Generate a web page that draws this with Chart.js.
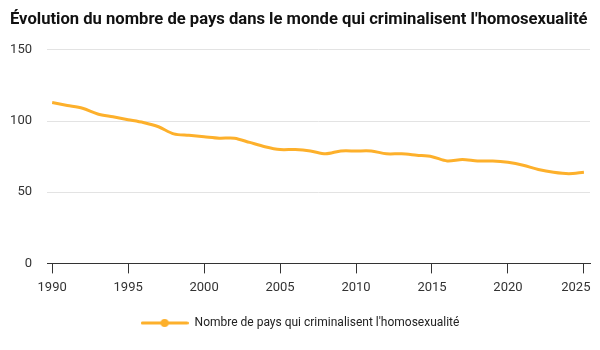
<!DOCTYPE html>
<html>
<head>
<meta charset="utf-8">
<script src="https://cdn.jsdelivr.net/npm/chart.js@4/dist/chart.umd.min.js"></script>
<style>
  html, body { margin: 0; padding: 0; background: #ffffff; }
  #wrap { width: 600px; height: 350px; }
</style>
</head>
<body>
<div id="wrap"><canvas id="c" width="600" height="350"></canvas></div>
<script>
const chartTitle = "Évolution du nombre de pays dans le monde qui criminalisent l'homosexualité";
const seriesName = "Nombre de pays qui criminalisent l'homosexualité";
const years = [1990, 1991, 1992, 1993, 1994, 1995, 1996, 1997, 1998, 1999,
               2000, 2001, 2002, 2003, 2004, 2005, 2006, 2007, 2008, 2009,
               2010, 2011, 2012, 2013, 2014, 2015, 2016, 2017, 2018, 2019,
               2020, 2021, 2022, 2023, 2024, 2025];
const countries = [113, 111, 109, 105, 103, 101, 99, 96, 91, 90,
                   89, 88, 88, 85, 82, 80, 80, 79, 77, 79,
                   79, 79, 77, 77, 76, 75, 72, 73, 72, 72,
                   71, 69, 66, 64, 63, 64];
const xTicks = [1990, 1995, 2000, 2005, 2010, 2015, 2020, 2025];
const yTicks = [0, 50, 100, 150];

const lineColor = '#FDB02B';

// legend icon: line with a dot in the middle
const icon = document.createElement('canvas');
icon.width = 48; icon.height = 10;
(function () {
  const g = icon.getContext('2d');
  g.strokeStyle = lineColor;
  g.lineWidth = 3;
  g.lineCap = 'round';
  g.beginPath(); g.moveTo(1.5, 5); g.lineTo(46.5, 5); g.stroke();
  g.fillStyle = lineColor;
  g.beginPath(); g.arc(24, 5, 4, 0, Math.PI * 2); g.fill();
})();

const points = years.map((y, i) => ({ x: y, y: countries[i] }));

new Chart(document.getElementById('c'), {
  type: 'line',
  data: {
    datasets: [{
      label: seriesName,
      data: points,
      borderColor: lineColor,
      backgroundColor: lineColor,
      borderWidth: 3,
      pointRadius: 0,
      pointHoverRadius: 0,
      tension: 0.3,
      fill: false
    }]
  },
  options: {
    responsive: false,
    animation: false,
    events: [],
    layout: { padding: { left: 10, right: 10, top: 0, bottom: 11 } },
    plugins: {
      title: {
        display: true,
        text: chartTitle,
        align: 'start',
        color: '#111111',
        font: { family: 'Roboto', size: 16.6, weight: 'bold' },
        padding: { top: 10, bottom: 20 }
      },
      legend: {
        display: true,
        position: 'bottom',
        labels: {
          usePointStyle: true,
          pointStyle: icon,
          pointStyleWidth: 48,
          color: '#222222',
          font: { family: 'Roboto', size: 12 },
          padding: 14
        }
      },
      tooltip: { enabled: false }
    },
    scales: {
      x: {
        type: 'linear',
        min: 1989.66,
        max: 2025.4,
        afterBuildTicks: (scale) => { scale.ticks = xTicks.map(v => ({ value: v })); },
        afterFit: (scale) => { scale.paddingLeft = 0; scale.paddingRight = 0; },
        grid: { display: true, drawOnChartArea: false, drawTicks: true, tickLength: 10, color: '#333333' },
        border: { display: true, color: '#333333', width: 1 },
        ticks: {
          autoSkip: false,
          maxRotation: 0,
          padding: 7,
          color: '#333333',
          font: { family: 'Roboto', size: 13 },
          callback: (v) => (v === 2025 ? '2025     ' : String(v))
        }
      },
      y: {
        min: 0,
        max: 150,
        afterBuildTicks: (scale) => { scale.ticks = yTicks.map(v => ({ value: v })); },
        afterFit: (scale) => { scale.width = 37; scale.paddingTop = 0; scale.paddingBottom = 0; },
        grid: { color: '#e3e3e3', drawTicks: false, tickLength: 0 },
        border: { display: false },
        ticks: {
          padding: 15,
          color: '#333333',
          font: { family: 'Roboto', size: 13 }
        }
      }
    }
  }
});
</script>
</body>
</html>
